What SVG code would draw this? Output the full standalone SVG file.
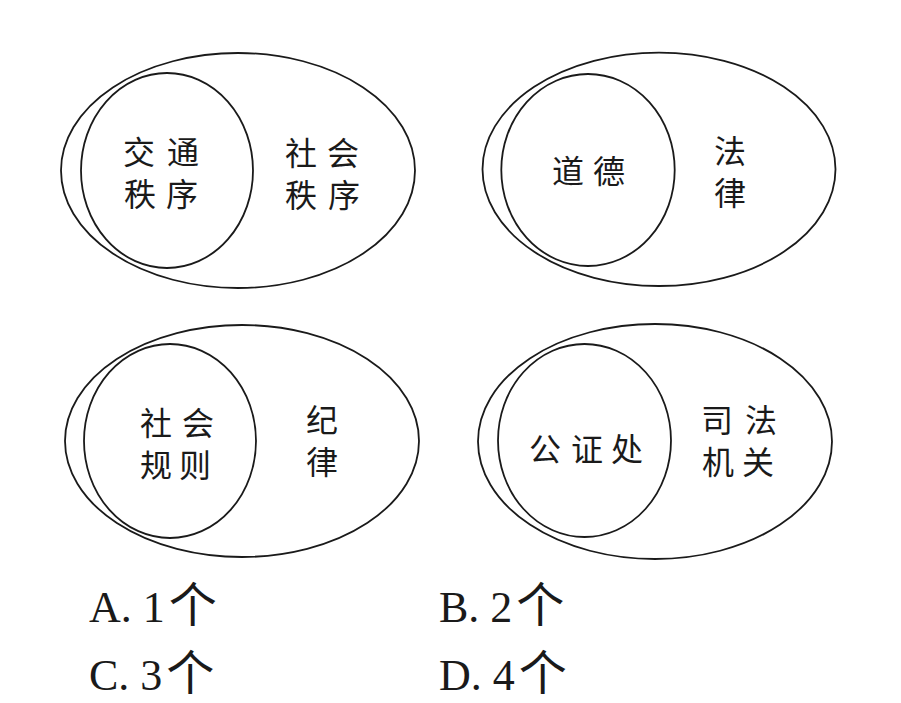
<svg xmlns="http://www.w3.org/2000/svg" width="901" height="703" viewBox="0 0 901 703">
<style>
.o{fill:none;stroke:#1a1a1a;stroke-width:1.8}
.l{font-family:"Noto Sans CJK SC","Noto Sans",sans-serif;font-size:32px;fill:#1a1a1a;text-anchor:middle;dominant-baseline:central}
.a{font-family:"Liberation Serif","Noto Sans CJK SC",serif;font-size:44px;fill:#1a1a1a}
.g{font-family:"Noto Sans CJK SC",sans-serif;font-size:48px}
</style>
<rect width="901" height="703" fill="#fff"/>
<g id="d1">
<ellipse class="o" cx="238" cy="170.5" rx="177" ry="117.5"/>
<ellipse class="o" cx="167" cy="170.5" rx="86" ry="97.5"/>
<text class="l"><tspan x="139 183" y="150">交通</tspan><tspan x="140 182" y="192">秩序</tspan></text>
<text class="l"><tspan x="301 343" y="151">社会</tspan><tspan x="301 344" y="193">秩序</tspan></text>
</g>
<g id="d2">
<ellipse class="o" cx="659" cy="169.3" rx="176.5" ry="116.7"/>
<ellipse class="o" cx="588" cy="170" rx="86.7" ry="96"/>
<text class="l" x="568 609" y="169">道德</text>
<text class="l"><tspan x="730" y="149">法</tspan><tspan x="730" y="191">律</tspan></text>
</g>
<g id="d3">
<ellipse class="o" cx="242" cy="441" rx="177" ry="116"/>
<ellipse class="o" cx="170" cy="441" rx="86" ry="97"/>
<text class="l"><tspan x="156 198" y="421">社会</tspan><tspan x="156 195" y="463">规则</tspan></text>
<text class="l"><tspan x="322" y="418">纪</tspan><tspan x="322" y="460">律</tspan></text>
</g>
<g id="d4">
<ellipse class="o" cx="655" cy="441.5" rx="177" ry="117.5"/>
<ellipse class="o" cx="584.5" cy="440.5" rx="86.5" ry="96.5"/>
<text class="l" x="545 587 627" y="447">公证处</text>
<text class="l"><tspan x="717 761" y="418">司法</tspan><tspan x="718 758" y="460">机关</tspan></text>
</g>
<g id="answers">
<text class="a" x="89" y="622">A. 1<tspan class="g" dx="4">个</tspan></text>
<text class="a" x="439" y="622">B. 2<tspan class="g" dx="4">个</tspan></text>
<text class="a" x="89" y="690">C. 3<tspan class="g" dx="4">个</tspan></text>
<text class="a" x="439" y="690">D. 4<tspan class="g" dx="4">个</tspan></text>
</g>
</svg>
